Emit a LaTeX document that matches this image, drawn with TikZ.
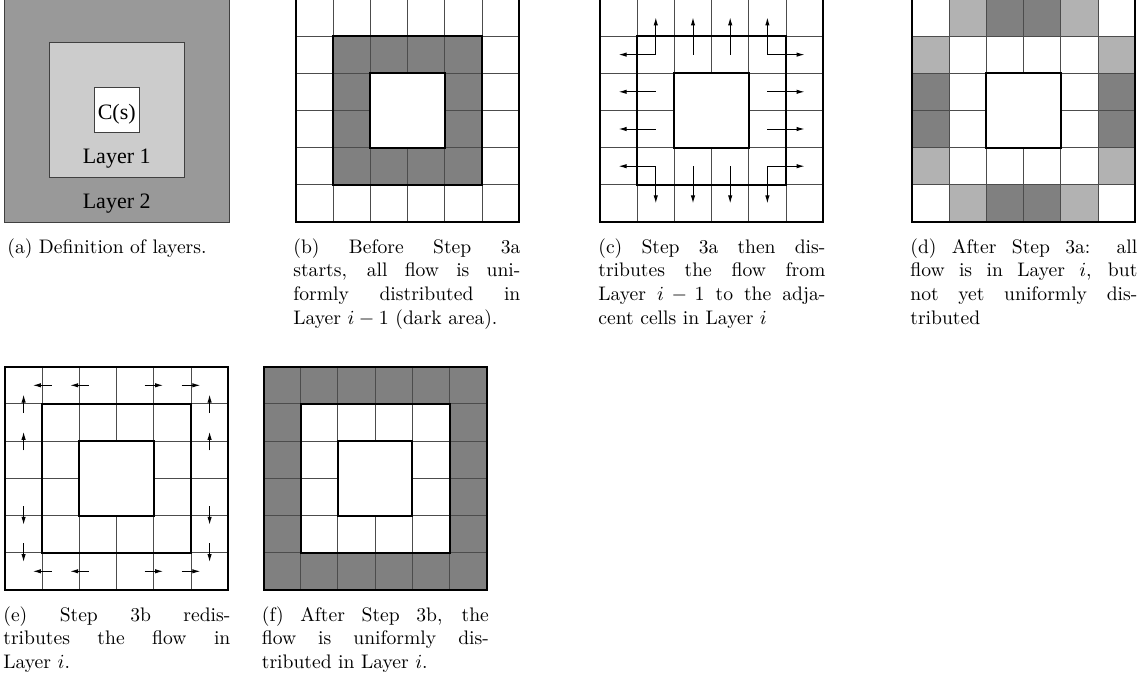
\documentclass[tikz,border=0pt]{standalone}
\usepackage{fontspec}
\newfontfamily\timesfont{Liberation Serif}
\usetikzlibrary{arrows.meta}
\newlength\capw
\setlength\capw{113.5pt}
\newcommand\jl[1]{\makebox[\capw][s]{#1}}
\definecolor{darkcell}{gray}{0.5}
\definecolor{lightcell}{gray}{0.7}
\definecolor{layertwo}{gray}{0.6}
\definecolor{layerone}{gray}{0.8}
\definecolor{gridline}{gray}{0.3}
\tikzset{
  gridthin/.style={draw=gridline,line width=0.5pt},
  gridthick/.style={draw=black,line width=1pt},
  flow/.style={draw=black,line width=0.5pt,-{Latex[length=4pt,width=2.2pt]}},
  flowtwo/.style={draw=black,line width=0.5pt,{Latex[length=4pt,width=2.2pt]}-{Latex[length=4pt,width=2.2pt]}},
  capt/.style={anchor=base west,inner sep=0pt,font=\fontsize{9.8}{11.95}\selectfont},
  lbl/.style={inner sep=0pt,font=\timesfont\fontsize{11}{13}\selectfont},
  layerbox/.style={draw=black!75,line width=0.6pt}
}
\newcommand\gridlines{%
  \foreach \k in {1,...,5}{
    \draw[gridthin] (\k,0) -- (\k,6);
    \draw[gridthin] (0,\k) -- (6,\k);
  }
  \fill[white] (2,2) rectangle (4,4);
}
\newcommand\gridframe{%
  \gridlines
  \draw[gridthick] (0,0) rectangle (6,6);
  \draw[gridthick] (1,1) rectangle (5,5);
  \draw[gridthick] (2,2) rectangle (4,4);
}
\begin{document}
\begin{tikzpicture}[x=0.5pt,y=-0.5pt]
\useasboundingbox (0,0) rectangle (1148,682);
% ---------- (a)
\draw[layerbox,fill=layertwo] (4.2,-2.5) rectangle (229.2,222.5);
\draw[layerbox,fill=layerone] (49.2,42.5) rectangle (184.2,177.5);
\draw[layerbox,fill=white] (94.2,87.5) rectangle (139.2,132.5);
\node[lbl,anchor=base] (cs) at (116.7,119) {C(s)};
\node[lbl,anchor=base] (l1) at (116.7,163.3) {Layer 1};
\node[lbl,anchor=base] (l2) at (116.7,208.3) {Layer 2};
% ---------- (b)
\begin{scope}[shift={(296,-1.2)},x=18.6pt,y=-18.6pt]
  \fill[darkcell] (1,1) rectangle (5,5);
  \gridframe
\end{scope}
% ---------- (c)
\begin{scope}[shift={(600,-1.2)},x=18.6pt,y=-18.6pt]
  \gridframe
  \draw[flowtwo] (0.5,1.5) -- (1.5,1.5) -- (1.5,0.5);
  \draw[flow] (2.5,1.5) -- (2.5,0.5);
  \draw[flow] (3.5,1.5) -- (3.5,0.5);
  \draw[flowtwo] (4.5,0.5) -- (4.5,1.5) -- (5.5,1.5);
  \draw[flow] (1.5,2.5) -- (0.5,2.5);
  \draw[flow] (1.5,3.5) -- (0.5,3.5);
  \draw[flow] (4.5,2.5) -- (5.5,2.5);
  \draw[flow] (4.5,3.5) -- (5.5,3.5);
  \draw[flowtwo] (0.5,4.5) -- (1.5,4.5) -- (1.5,5.5);
  \draw[flow] (2.5,4.5) -- (2.5,5.5);
  \draw[flow] (3.5,4.5) -- (3.5,5.5);
  \draw[flowtwo] (5.5,4.5) -- (4.5,4.5) -- (4.5,5.5);
\end{scope}
% ---------- (d)
\begin{scope}[shift={(912,-1.2)},x=18.6pt,y=-18.6pt]
  \foreach \cx/\cy in {1/0,4/0,0/1,5/1,0/4,5/4,1/5,4/5}
    \fill[lightcell] (\cx,\cy) rectangle ++(1,1);
  \foreach \cx/\cy in {2/0,3/0,0/2,0/3,5/2,5/3,2/5,3/5}
    \fill[darkcell] (\cx,\cy) rectangle ++(1,1);
  \gridlines
  \draw[gridthick] (0,0) rectangle (6,6);
  \draw[gridthick] (2,2) rectangle (4,4);
\end{scope}
% ---------- (e)
\begin{scope}[shift={(5,366.7)},x=18.6pt,y=-18.6pt]
  \gridframe
  \foreach \yy in {0.5,5.5}{
    \draw[flow] (1.25,\yy) -- (0.75,\yy);
    \draw[flow] (2.25,\yy) -- (1.75,\yy);
    \draw[flow] (3.75,\yy) -- (4.25,\yy);
    \draw[flow] (4.75,\yy) -- (5.25,\yy);
  }
  \foreach \xx in {0.5,5.5}{
    \draw[flow] (\xx,1.25) -- (\xx,0.75);
    \draw[flow] (\xx,2.25) -- (\xx,1.75);
    \draw[flow] (\xx,3.75) -- (\xx,4.25);
    \draw[flow] (\xx,4.75) -- (\xx,5.25);
  }
\end{scope}
% ---------- (f)
\begin{scope}[shift={(263.5,366.7)},x=18.6pt,y=-18.6pt]
  \fill[darkcell] (0,0) rectangle (6,6);
  \fill[white] (1,1) rectangle (5,5);
  \gridframe
\end{scope}
% ---------- captions
\node[capt] (ca1) at (7,253) {(a) Definition of layers.};
\node[capt] (cb1) at (293,253) {\jl{(b) Before Step 3a}};
\node[capt] (cb2) at (293,276.9) {\jl{starts, all flow is uni-}};
\node[capt] (cb3) at (293,300.8) {\jl{formly distributed in}};
\node[capt] (cb4) at (293,324.7) {Layer $i-1$ (dark area).};
\node[capt] (cc1) at (598,253) {\jl{(c) Step 3a then dis-}};
\node[capt] (cc2) at (598,276.9) {\jl{tributes the flow from}};
\node[capt] (cc3) at (598,300.8) {\jl{Layer $i-1$ to the adja-}};
\node[capt] (cc4) at (598,324.7) {cent cells in Layer $i$};
\node[capt] (cd1) at (910,253) {\jl{(d) After Step 3a: all}};
\node[capt] (cd2) at (910,276.9) {\jl{flow is in Layer $i$, but}};
\node[capt] (cd3) at (910,300.8) {\jl{not yet uniformly dis-}};
\node[capt] (cd4) at (910,324.7) {tributed};
\node[capt] (ce1) at (3,621) {\jl{(e) Step 3b redis-}};
\node[capt] (ce2) at (3,644.7) {\jl{tributes the flow in}};
\node[capt] (ce3) at (3,668.4) {Layer $i$.};
\node[capt] (cf1) at (261.5,621) {\jl{(f) After Step 3b, the}};
\node[capt] (cf2) at (261.5,644.7) {\jl{flow is uniformly dis-}};
\node[capt] (cf3) at (261.5,668.4) {tributed in Layer $i$.};
\end{tikzpicture}
\end{document}
